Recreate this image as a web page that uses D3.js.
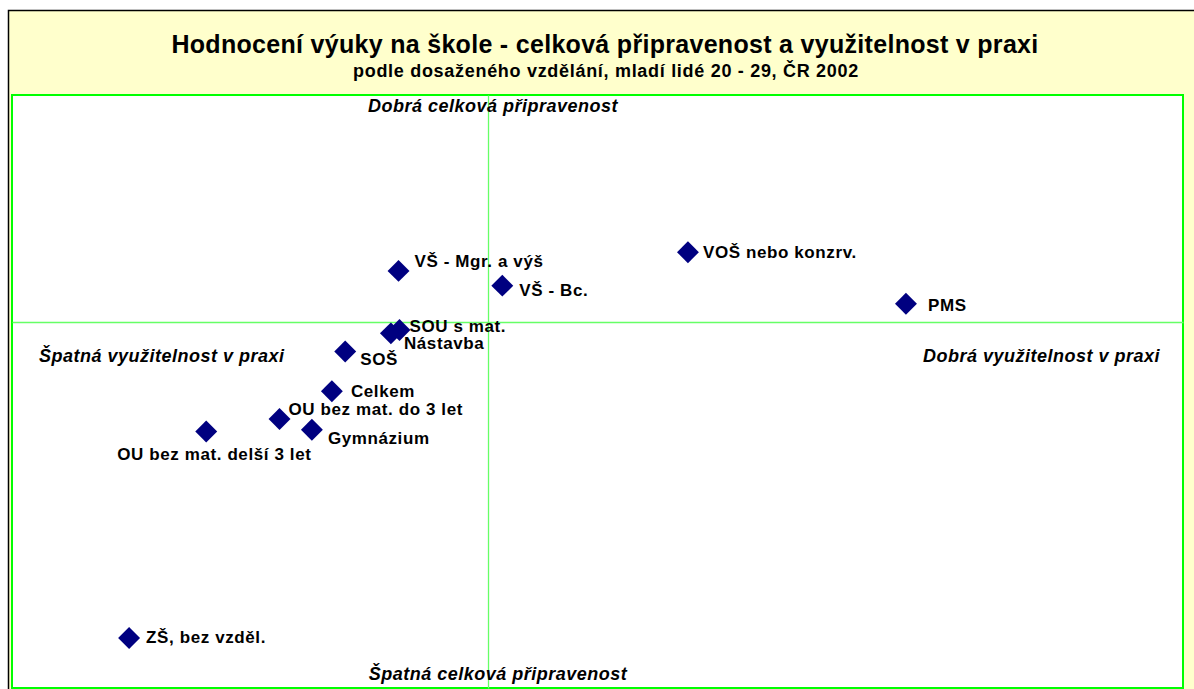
<!DOCTYPE html>
<html>
<head>
<meta charset="utf-8">
<script src="https://cdn.jsdelivr.net/npm/d3@7"></script>
<style>
    body { margin: 0; background: #fff; }
    #chart { width: 1194px; height: 689px; }
    text { font-family: "Liberation Sans", Arial, sans-serif; }
    .point-label { font-size: 17px; font-weight: bold; letter-spacing: 0.6px; fill: #000; }
    .quad-label { font-size: 18px; font-weight: bold; font-style: italic; letter-spacing: 0.5px; fill: #000; }
</style>
</head>
<body>
<div id="chart"></div>
<script>

// education groups
const categories = [
    "VŠ - Mgr. a výš", "VŠ - Bc.", "SOU s mat.", "Nástavba", "SOŠ", "Celkem",
    "OU bez mat. do 3 let", "Gymnázium", "OU bez mat. delší 3 let", "ZŠ, bez vzděl.",
    "VOŠ nebo konzrv.", "PMS"
];

// x: využitelnost v praxi (index, 0 = average)
const utilityValues = [-9.4, 1.5, -9.3, -10.2, -15.0, -16.4, -21.9, -18.5, -29.6, -37.7, 21.0, 43.9];

// y: celková připravenost (index, 0 = average)
const readinessValues = [9.0, 6.4, -1.4, -2.0, -5.2, -12.2, -17.1, -19.0, -19.3, -55.7, 12.3, 3.2];

// axis ranges
const xDomain = [-50, 73];
const yDomain = [-64.5, 40];

// label placement relative to marker (px)
const labelOffsets = [
    [16, -4], [17, 10], [10, 2], [13, 16], [15, 14], [19, 6],
    [9, -4], [16, 14], [-89, 28], [17, 5], [15, 6], [22, 7]
];

const titleText = "Hodnocení výuky na škole - celková připravenost a využitelnost v praxi";
const subtitleText = "podle dosaženého vzdělání, mladí lidé 20 - 29, ČR 2002";


class QuadrantScatter {

    constructor(parentElement) {
        this.parentElement = parentElement;
        this.data = categories.map((name, i) => ({
            name: name,
            x: utilityValues[i],
            y: readinessValues[i],
            off: labelOffsets[i]
        }));
        this.initVis();
    }

    initVis() {
        let vis = this;

        vis.width = 1194;
        vis.height = 689;
        vis.plot = {left: 12, top: 95, right: 1183, bottom: 688};

        vis.svg = d3.select("#" + vis.parentElement).append("svg")
            .attr("width", vis.width)
            .attr("height", vis.height);

        // chart frame
        vis.svg.append("rect")
            .attr("x", 8.5)
            .attr("y", 10.5)
            .attr("width", vis.width)
            .attr("height", vis.height)
            .attr("fill", "#FFFFCC")
            .attr("stroke", "#000")
            .attr("stroke-width", 1.5);

        // titles
        vis.svg.append("text")
            .attr("x", 605)
            .attr("y", 53)
            .attr("text-anchor", "middle")
            .style("font-size", "25px")
            .style("font-weight", "bold")
            .style("letter-spacing", "0.3px")
            .text(titleText);

        vis.svg.append("text")
            .attr("x", 606)
            .attr("y", 77)
            .attr("text-anchor", "middle")
            .style("font-size", "18px")
            .style("font-weight", "bold")
            .style("letter-spacing", "0.7px")
            .text(subtitleText);

        // plot area
        let p = vis.plot;
        vis.svg.append("rect")
            .attr("x", p.left)
            .attr("y", p.top)
            .attr("width", p.right - p.left)
            .attr("height", p.bottom - p.top)
            .attr("fill", "#fff")
            .attr("stroke", "#00FF00")
            .attr("stroke-width", 2);

        vis.xScale = d3.scaleLinear().domain(xDomain).range([p.left, p.right]);
        vis.yScale = d3.scaleLinear().domain(yDomain).range([p.bottom, p.top]);

        // axes crossing at 0, no ticks
        vis.svg.append("g")
            .attr("class", "x-axis")
            .attr("transform", `translate(0, ${vis.yScale(0)})`)
            .call(d3.axisBottom(vis.xScale).tickValues([]).tickSizeOuter(0));

        vis.svg.append("g")
            .attr("class", "y-axis")
            .attr("transform", `translate(${vis.xScale(0)}, 0)`)
            .call(d3.axisLeft(vis.yScale).tickValues([]).tickSizeOuter(0));

        vis.svg.selectAll(".x-axis path, .y-axis path")
            .attr("stroke", "#66FF66")
            .attr("stroke-width", 1.3);

        // quadrant captions
        let cx = vis.xScale(0);
        vis.svg.append("text").attr("class", "quad-label")
            .attr("x", cx + 5).attr("y", 112).attr("text-anchor", "middle")
            .text("Dobrá celková připravenost");
        vis.svg.append("text").attr("class", "quad-label")
            .attr("x", cx + 10).attr("y", 680).attr("text-anchor", "middle")
            .text("Špatná celková připravenost");
        vis.svg.append("text").attr("class", "quad-label")
            .attr("x", 39).attr("y", 362)
            .text("Špatná využitelnost v praxi");
        vis.svg.append("text").attr("class", "quad-label")
            .attr("x", 1160).attr("y", 362).attr("text-anchor", "end")
            .text("Dobrá využitelnost v praxi");

        vis.updateVis();
    }

    updateVis() {
        let vis = this;

        let diamond = d3.symbol().type(d3.symbolSquare).size(240);

        let points = vis.svg.append("g").attr("class", "points")
            .selectAll("g")
            .data(vis.data)
            .enter()
            .append("g")
            .attr("transform", d => `translate(${vis.xScale(d.x)}, ${vis.yScale(d.y)})`);

        points.append("path")
            .attr("d", diamond)
            .attr("transform", "rotate(45)")
            .attr("fill", "#000080");

        points.append("text")
            .attr("class", "point-label")
            .attr("x", d => d.off[0])
            .attr("y", d => d.off[1])
            .text(d => d.name);
    }
}

new QuadrantScatter("chart");
</script>
</body>
</html>
